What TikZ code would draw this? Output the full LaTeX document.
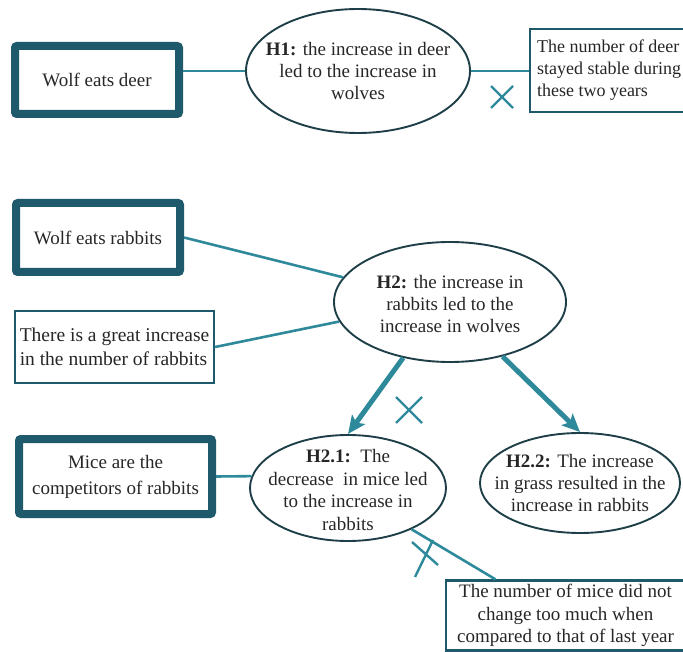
\documentclass[tikz,border=0pt]{standalone}
\usepackage{fontspec}
\setmainfont{Liberation Serif}
\usetikzlibrary{shapes.geometric,arrows.meta,calc}
\definecolor{boxdark}{HTML}{1E5A6B}
\definecolor{linkteal}{HTML}{2E8A9B}
\definecolor{rim}{HTML}{1F3F48}
\definecolor{txt}{HTML}{262626}

\begin{document}
\begin{tikzpicture}[x=1pt,y=-1pt,
  every node/.style={text=txt,font=\fontsize{19}{22}\selectfont},
  heavybox/.style={draw=boxdark,line width=8pt,rounded corners=2pt,inner sep=0pt,align=center},
  thinbox/.style={draw=boxdark,line width=2.2pt,inner sep=0pt},
  hypo/.style={ellipse,draw=rim,line width=1.9pt,inner sep=0pt},
  hypotext/.style={align=center,inner sep=0pt},
  link/.style={draw=linkteal,line width=2.6pt},
  bigarrow/.style={draw=linkteal,line width=5pt,-{Stealth[length=18pt,width=16pt,inset=4pt]}},
  cross/.style={draw=linkteal,line width=2.4pt}
]
\useasboundingbox (0,0) rectangle (683,652);

% --- first hypothesis: deer ---
\node[heavybox,minimum width=164pt,minimum height=68pt] (wd) at (97,80) {Wolf eats deer};
\node[hypo,minimum width=224pt,minimum height=124pt] (h1) at (358,71) {};
\node[hypotext] (h1t) at (h1.center)
  {\textbf{H1:} the increase in deer\\led to the increase in\\wolves};
\node[thinbox,minimum width=158pt,minimum height=83pt,align=left,
  font=\fontsize{18}{22}\selectfont] (deer) at (609,70.5)
  {The number of deer\\stayed stable during\\these two years};

\draw[link] (h1.west -| wd.east) -- (h1.west);
\draw[link] (h1.east) -- (h1.east -| deer.west);
\draw[cross] (491,86) -- (513,108) (491,108) -- (513,86);

% --- second hypothesis: rabbits ---
\node[heavybox,minimum width=164pt,minimum height=69pt] (wr) at (98,237.5) {Wolf eats rabbits};
\node[hypo,minimum width=232pt,minimum height=120pt] (h2) at (450,302) {};
\node[hypotext] (h2t) at (450,304)
  {\textbf{H2:} the increase in\\rabbits led to the\\increase in wolves};
\node[thinbox,minimum width=199pt,minimum height=72pt,align=left,
  font=\fontsize{19.5}{24}\selectfont] (rb) at (114.5,347)
  {There is a great increase\\in the number of rabbits};

\draw[link] (wr.east) -- (h2.167);
\draw[link] (rb.east) -- (h2.190);

% --- sub-hypotheses ---
\node[heavybox,minimum width=193pt,minimum height=75pt,
  font=\fontsize{19}{26}\selectfont] (mb) at (115.5,476.5)
  {Mice are the\\competitors of rabbits};
\node[hypo,minimum width=196pt,minimum height=106pt] (h21) at (348,488) {};
\node[hypotext,font=\fontsize{19}{22.5}\selectfont] (h21t) at (348,490)
  {\textbf{H2.1:}\ \ The\\decrease\ \ in mice led\\to the increase in\\rabbits};
\node[hypo,minimum width=200pt,minimum height=100pt] (h22) at (580,483) {};
\node[hypotext] (h22t) at (580,483)
  {\textbf{H2.2:} The increase\\in grass resulted in the\\increase in rabbits};
\node[thinbox,minimum width=239pt,minimum height=70pt,align=center,
  font=\fontsize{19}{22.5}\selectfont] (nm) at (565.5,615.5)
  {The number of mice did not\\change too much when\\compared to that of last year};

\draw[bigarrow] (h2.230) -- (h21.north);
\draw[bigarrow] (h2.314) -- (h22.north);
\draw[cross] (396,397) -- (422,423) (396,423) -- (422,397);

\draw[link] (mb.east) -- (h21.173);
\draw[link] (h21.327) -- ($(nm.north west)!0.21!(nm.north east)$);
\draw[cross] (412,542) -- (438,565) (415,577) -- (433,540);
\end{tikzpicture}
\end{document}
